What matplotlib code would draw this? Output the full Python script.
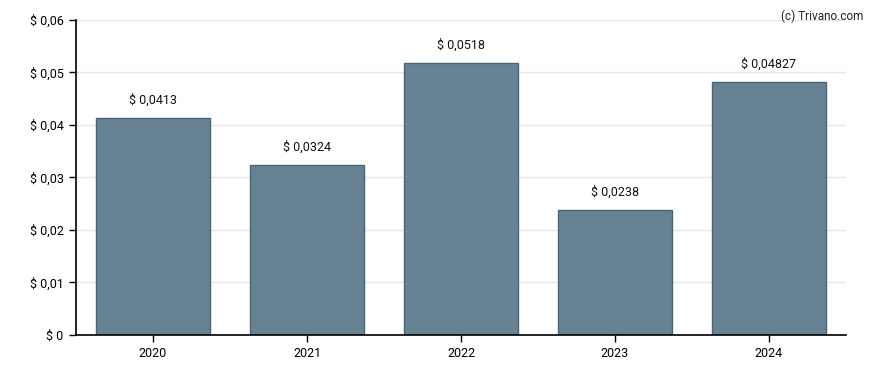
import matplotlib.pyplot as plt

plt.rcParams['font.family'] = ['Roboto', 'DejaVu Sans']

years = ['2020', '2021', '2022', '2023', '2024']
values = [0.0413, 0.0324, 0.0518, 0.0238, 0.04827]
labels = ['$ 0,0413', '$ 0,0324', '$ 0,0518', '$ 0,0238', '$ 0,04827']
yticks = [0, 0.01, 0.02, 0.03, 0.04, 0.05, 0.06]
ytick_labels = ['$ 0', '$ 0,01', '$ 0,02', '$ 0,03', '$ 0,04', '$ 0,05', '$ 0,06']

fig = plt.figure(figsize=(8.88, 3.7), dpi=100)
ax = fig.add_axes([0.0856, 0.0946, 0.8671, 0.8514])

x = range(len(years))
ax.bar(x, values, width=0.745, color='#678293', edgecolor='#4a6578', linewidth=1, zorder=2)
for i, (v, lab) in enumerate(zip(values, labels)):
    ax.annotate(lab, (i, v), xytext=(0, 8), textcoords='offset points',
                ha='center', va='bottom', fontsize=9, color='#111111')

ax.set_xlim(-0.5, len(years) - 0.5)
ax.set_ylim(0, 0.06)
ax.set_xticks(list(x))
ax.set_xticklabels(years, fontsize=9)
ax.set_yticks(yticks)
ax.set_yticklabels(ytick_labels, fontsize=9)
ax.yaxis.grid(True, color='#e6e6e6', linewidth=1, zorder=0)
ax.set_axisbelow(True)
for s in ['top', 'right']:
    ax.spines[s].set_visible(False)
ax.spines['left'].set_linewidth(1.2)
ax.spines['bottom'].set_linewidth(1.2)
ax.tick_params(axis='both', length=5, width=1, colors='black', pad=4)

fig.text(0.972, 0.975, '(c) Trivano.com', ha='right', va='top', fontsize=8.5, color='#222222')

fig.savefig('out.png', dpi=100)
